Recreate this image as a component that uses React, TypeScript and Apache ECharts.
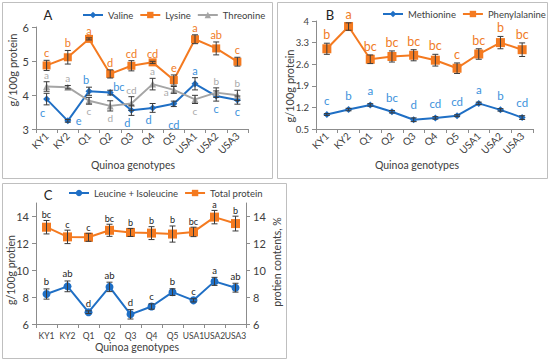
import React, { useEffect, useRef } from 'react';
import * as echarts from 'echarts';

// ---------- data ----------
const categories = ['KY1', 'KY2', 'Q1', 'Q2', 'Q3', 'Q4', 'Q5', 'USA1', 'USA2', 'USA3'];

// Panel A
const valine = [3.88, 3.24, 4.11, 4.07, 3.55, 3.62, 3.74, 4.33, 3.97, 3.85];
const valineErr = [0.17, 0.04, 0.12, 0.07, 0.15, 0.13, 0.08, 0.18, 0.15, 0.12];
const valineLetters = ['c', 'e', 'b', 'bc', 'd', 'd', 'cd', 'a', 'c', 'c'];
const lysine = [4.87, 5.11, 5.65, 4.62, 4.86, 4.96, 4.44, 5.64, 5.37, 4.98];
const lysineErr = [0.15, 0.2, 0.03, 0.12, 0.15, 0.03, 0.15, 0.13, 0.19, 0.13];
const lysineLetters = ['c', 'b', 'a', 'd', 'cd', 'cd', 'e', 'a', 'ab', 'c'];
const threonine = [4.25, 4.23, 3.83, 3.68, 3.75, 4.32, 4.15, 3.87, 4.07, 3.99];
const threonineErr = [0.14, 0.05, 0.1, 0.15, 0.2, 0.17, 0.1, 0.12, 0.14, 0.15];
const threonineLetters = ['a', 'a', 'c', 'd', 'cd', 'a', 'a', 'c', 'b', 'b'];

// Panel B
const methionine = [0.97, 1.13, 1.28, 1.06, 0.8, 0.86, 0.93, 1.33, 1.12, 0.87];
const methionineErr = [0.03, 0.04, 0.04, 0.04, 0.06, 0.04, 0.03, 0.04, 0.04, 0.06];
const methionineLetters = ['c', 'b', 'a', 'bc', 'd', 'cd', 'cd', 'a', 'b', 'cd'];
const phenylalanine = [3.1, 3.82, 2.76, 2.85, 2.89, 2.73, 2.47, 2.93, 3.3, 3.07];
const phenylalanineErr = [0.18, 0.12, 0.14, 0.18, 0.18, 0.19, 0.17, 0.17, 0.2, 0.22];
const phenylalanineLetters = ['b', 'a', 'bc', 'bc', 'bc', 'bc', 'c', 'bc', 'b', 'bc'];

// Panel C
const leuIle = [8.23, 8.8, 6.88, 8.76, 6.72, 7.3, 8.37, 7.76, 9.17, 8.7];
const leuIleErr = [0.38, 0.4, 0.1, 0.35, 0.35, 0.2, 0.25, 0.12, 0.3, 0.33];
const leuIleLetters = ['b', 'ab', 'd', 'ab', 'd', 'c', 'b', 'c', 'a', 'ab'];
const totalProtein = [13.2, 12.48, 12.45, 12.97, 12.81, 12.76, 12.69, 12.85, 13.95, 13.47];
const totalProteinErr = [0.5, 0.5, 0.3, 0.45, 0.3, 0.48, 0.6, 0.35, 0.5, 0.55];
const totalProteinLetters = ['bc', 'c', 'c', 'bc', 'b', 'b', 'b', 'bc', 'a', 'b'];

// ---------- styles ----------
const FONT = 'Lato, "Open Sans", sans-serif';
const BLUE = '#1F6FC5';
const ORANGE = '#F47A20';
const GRAY = '#A5A5A5';
const AXIS = '#8C8C8C';
const TXT = '#404040';

// letter placement (style only)
const valinePlace = ['bl', 'r', 'tl', 'tr', 'bl', 'bl', 'bb', 't', 'b', 'b'];
const threoninePlace = ['t', 't', 'b', 'b', 't', 't', 'l', 'b', 't', 't'];
const allTop = categories.map(() => 't');

const B_BASE = 0.5; // B axis runs 0.5..4 in 0.7 steps

function errLetters(
  name: string, xAxisIndex: number, yAxisIndex: number,
  values: number[], errs: number[], letters: string[], places: string[],
  letterColor: string, fontSize: number, gap: number, base = 0
) {
  return {
    type: 'custom',
    name,
    xAxisIndex,
    yAxisIndex,
    z: 5,
    silent: true,
    data: values.map((v, i) => [i, v - base, errs[i]]),
    renderItem: (params: any, api: any) => {
      const i = api.value(0);
      const v = api.value(1);
      const e = api.value(2);
      const pc = api.coord([i, v]);
      const pt = api.coord([i, v + e]);
      const pb = api.coord([i, v - e]);
      const cap = 3;
      const st = { stroke: '#3a3a3a', lineWidth: 1 };
      const children: any[] = [
        { type: 'line', shape: { x1: pc[0], y1: pt[1], x2: pc[0], y2: pb[1] }, style: st },
        { type: 'line', shape: { x1: pc[0] - cap, y1: pt[1], x2: pc[0] + cap, y2: pt[1] }, style: st },
        { type: 'line', shape: { x1: pc[0] - cap, y1: pb[1], x2: pc[0] + cap, y2: pb[1] }, style: st },
      ];
      const p = places[params.dataIndex];
      let x = pc[0];
      let y = pc[1];
      let align = 'center';
      let va = 'middle';
      if (p === 't') { y = pt[1] - gap; va = 'bottom'; }
      else if (p === 'b') { y = pb[1] + gap; va = 'top'; }
      else if (p === 'bb') { y = pb[1] + gap + 10; va = 'top'; }
      else if (p === 'bl') { y = pb[1] + gap; va = 'top'; x -= 4; }
      else if (p === 'tl') { y = pt[1] - gap; va = 'bottom'; x -= 3; }
      else if (p === 'tr') { y = pc[1] - 1; va = 'bottom'; x += 3; align = 'left'; }
      else if (p === 'l') { x -= 5; y += 2; align = 'right'; }
      else if (p === 'r') { x += 8; align = 'left'; }
      children.push({
        type: 'text',
        x, y,
        style: {
          text: letters[params.dataIndex],
          fill: letterColor,
          font: `${fontSize}px ${FONT}`,
          align,
          verticalAlign: va,
        },
      });
      return { type: 'group', children };
    },
  };
}

function lineSeries(name: string, xi: number, yi: number, values: number[], color: string, symbol: string, size: number, base = 0) {
  return {
    type: 'line',
    name,
    xAxisIndex: xi,
    yAxisIndex: yi,
    data: values.map((v) => v - base),
    symbol,
    symbolSize: size,
    lineStyle: { color, width: 2 },
    itemStyle: { color },
    z: 3,
  };
}

function catAxis(gridIndex: number, rotate: number, fontSize: number) {
  return {
    type: 'category',
    gridIndex,
    data: categories,
    boundaryGap: true,
    axisLine: { lineStyle: { color: AXIS } },
    axisTick: { show: true, alignWithLabel: false, length: 4, lineStyle: { color: AXIS } },
    axisLabel: { interval: 0, rotate, color: TXT, fontSize, fontFamily: FONT, margin: rotate ? 5 : 7 },
    splitLine: { show: false },
  };
}

function valAxis(gridIndex: number, min: number, max: number, interval: number, fontSize: number, extra: any = {}) {
  return {
    type: 'value',
    gridIndex,
    min, max, interval,
    axisLine: { show: true, lineStyle: { color: AXIS } },
    axisTick: { show: true, length: 4, lineStyle: { color: AXIS } },
    axisLabel: { color: TXT, fontSize, fontFamily: FONT, margin: 7 },
    splitLine: { show: false },
    ...extra,
  };
}

const txt = (text: string, x: number, y: number, size: number, rot = 0, color = TXT) => ({
  type: 'text',
  x, y,
  rotation: rot,
  style: { text, fill: color, font: `${size}px ${FONT}`, align: 'center', verticalAlign: 'middle' },
});

const frame = (x: number, y: number, w: number, h: number) => ({
  type: 'rect',
  shape: { x, y, width: w, height: h },
  style: { fill: 'none', stroke: '#BFBFBF', lineWidth: 1 },
  z: 0,
});

export default function App() {
  const ref = useRef<HTMLDivElement>(null);
  useEffect(() => {
    if (!ref.current) return;
    const chart = echarts.init(ref.current, undefined, { renderer: 'svg' });
    const legendCommon = {
      itemWidth: 20,
      itemHeight: 8,
      itemGap: 6,
      textStyle: { color: TXT, fontSize: 9.5, fontFamily: FONT },
      padding: 0,
      width: 260,
      orient: 'horizontal',
    };
    chart.setOption({
      animation: false,
      backgroundColor: '#fff',
      grid: [
        { left: 36, top: 27, width: 212, height: 102 },
        { left: 316, top: 21, width: 217, height: 108 },
        { left: 36, top: 203, width: 210, height: 121 },
      ],
      xAxis: [catAxis(0, 45, 10), catAxis(1, 45, 10), catAxis(2, 0, 8.5)],
      yAxis: [
        valAxis(0, 3, 6, 1, 11),
        valAxis(1, 0, 4 - B_BASE, 0.7, 9.5, {
          axisLabel: {
            color: TXT, fontSize: 9.5, fontFamily: FONT, margin: 7,
            formatter: (v: number) => String(parseFloat((v + B_BASE).toFixed(1))),
          },
        }),
        valAxis(2, 6, 15, 2, 11, {
          axisLabel: { color: TXT, fontSize: 11, fontFamily: FONT, margin: 7, showMaxLabel: false },
        }),
        valAxis(2, 6, 15, 2, 11, {
          position: 'right',
          axisLabel: { color: TXT, fontSize: 11, fontFamily: FONT, margin: 7, showMaxLabel: false },
        }),
      ],
      legend: [
        { ...legendCommon, left: 82, top: 10, data: ['Valine', 'Lysine', 'Threonine'] },
        { ...legendCommon, left: 382, top: 9, width: 200, data: ['Methionine', 'Phenylalanine'] },
        { ...legendCommon, left: 68, top: 188, data: ['Leucine + Isoleucine', 'Total protein'] },
      ],
      graphic: [
        frame(2.5, 2.5, 270, 176),
        frame(277.5, 2.5, 270, 176),
        frame(2.5, 183.5, 284, 175),
        txt('A', 48, 15, 13, 0, '#222'),
        txt('B', 330, 15, 13, 0, '#222'),
        txt('C', 48, 195, 13, 0, '#222'),
        txt('g/100g protein', 12, 70, 11, Math.PI / 2),
        txt('g/100g protein', 289, 86, 11, Math.PI / 2),
        txt('g/100g protien', 11, 270, 10.5, Math.PI / 2),
        txt('protien contents, %', 277, 262, 10.5, Math.PI / 2),
        txt('Quinoa genotypes', 133, 165, 10.5),
        txt('Quinoa genotypes', 417, 165, 10.5),
        txt('Quinoa genotypes', 137, 347, 10.5),
      ],
      series: [
        lineSeries('Valine', 0, 0, valine, BLUE, 'diamond', 7),
        lineSeries('Lysine', 0, 0, lysine, ORANGE, 'rect', 8),
        lineSeries('Threonine', 0, 0, threonine, GRAY, 'triangle', 7),
        errLetters('Valine err', 0, 0, valine, valineErr, valineLetters, valinePlace, '#3C92DC', 11, 2),
        errLetters('Lysine err', 0, 0, lysine, lysineErr, lysineLetters, allTop, '#F07C28', 11, 2),
        errLetters('Threonine err', 0, 0, threonine, threonineErr, threonineLetters, threoninePlace, '#AAAAAA', 10, 2),

        lineSeries('Methionine', 1, 1, methionine, BLUE, 'diamond', 7, B_BASE),
        lineSeries('Phenylalanine', 1, 1, phenylalanine, ORANGE, 'rect', 9, B_BASE),
        errLetters('Methionine err', 1, 1, methionine, methionineErr, methionineLetters, allTop, '#3C92DC', 11.5, 7, B_BASE),
        errLetters('Phenylalanine err', 1, 1, phenylalanine, phenylalanineErr, phenylalanineLetters, allTop, '#F07C28', 12.5, 2, B_BASE),

        lineSeries('Leucine + Isoleucine', 2, 2, leuIle, BLUE, 'circle', 8),
        lineSeries('Total protein', 2, 3, totalProtein, ORANGE, 'rect', 9),
        errLetters('Leu err', 2, 2, leuIle, leuIleErr, leuIleLetters, allTop, '#222', 9.5, 2),
        errLetters('Total err', 2, 3, totalProtein, totalProteinErr, totalProteinLetters, allTop, '#222', 9, 1.5),
      ],
    });
    return () => chart.dispose();
  }, []);
  return (
    <div
      ref={ref}
      style={{ position: 'fixed', left: 0, top: 0, width: 550, height: 362, background: '#fff' }}
    />
  );
}
